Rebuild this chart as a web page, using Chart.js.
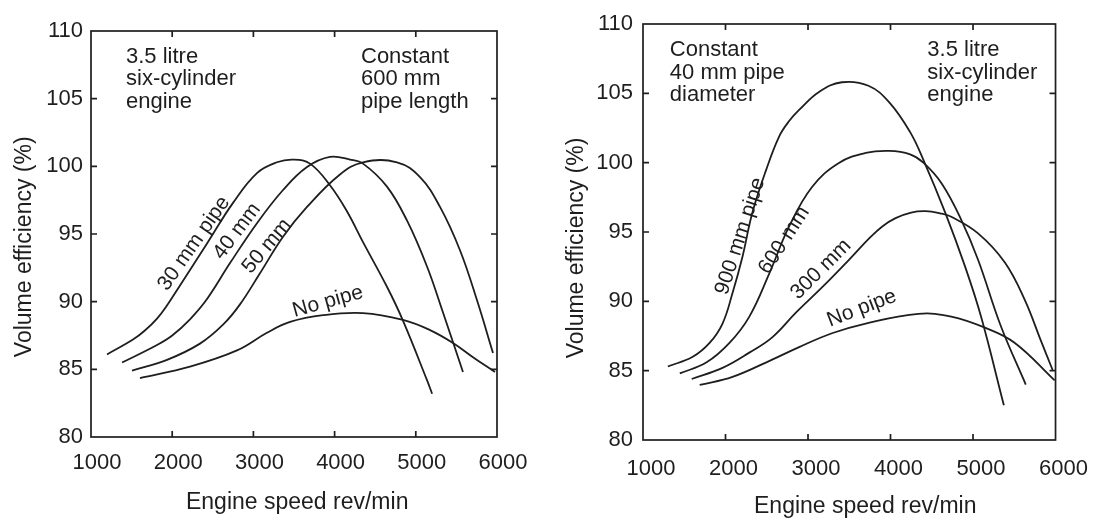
<!DOCTYPE html>
<html>
<head>
<meta charset="utf-8">
<script src="https://cdn.jsdelivr.net/npm/chart.js@4.4.1/dist/chart.umd.min.js"></script>
<style>
  html, body { margin: 0; padding: 0; background: #fff; }
  .panel { position: absolute; top: 0; width: 548px; height: 520px; }
  #left { left: 0; }
  #right { left: 548px; }
</style>
</head>
<body>
<div class="panel" id="left"><canvas id="chartDia"></canvas></div>
<div class="panel" id="right"><canvas id="chartLen"></canvas></div>
<script>
// ---- shared axes ----
const rpmMin = 1000, rpmMax = 6000, rpmStep = 1000;
const effMin = 80, effMax = 110, effStep = 5;

// ---- left chart: constant 600 mm pipe length, pipe diameter varies ----
const diaRpm30 = [1197, 1517, 1660, 1813, 1950, 2096, 2429, 2749, 3044, 3290, 3488, 3697, 3943, 4150, 4350, 4645, 4842, 5138, 5201];
const diaEff30 = [86.1, 87.2, 87.85, 88.75, 89.85, 91.2, 94.3, 97.3, 99.5, 100.3, 100.5, 100.2, 98.6, 96.7, 94.4, 91.1, 88.6, 84.2, 83.2];
const diaRpm40 = [1382, 1813, 2000, 2219, 2429, 2712, 3044, 3365, 3660, 3943, 4190, 4350, 4645, 4891, 5138, 5335, 5581];
const diaEff40 = [85.5, 86.8, 87.5, 88.7, 90.2, 92.85, 95.8, 98.25, 99.95, 100.7, 100.5, 100.2, 98.5, 96.0, 92.6, 89.2, 84.8];
const diaRpm50 = [1505, 1936, 2342, 2626, 2835, 3081, 3365, 3660, 4066, 4350, 4768, 5052, 5298, 5544, 5754, 5951];
const diaEff50 = [84.9, 85.7, 86.9, 88.3, 89.8, 92.1, 94.8, 97.0, 99.4, 100.3, 100.3, 99.2, 97.0, 93.8, 90.1, 86.2];
const diaRpmNone = [1603, 2219, 2798, 3167, 3451, 3857, 4350, 4842, 5175, 5458, 5704, 5975];
const diaEffNone = [84.35, 85.2, 86.4, 87.7, 88.5, 89.0, 89.15, 88.65, 87.9, 86.95, 85.9, 84.8];

const diaLabelText = ['30 mm pipe', '40 mm', '50 mm', 'No pipe'];
const diaLabelRpm = [2268, 2798, 3167, 3918];
const diaLabelEff = [94.3, 95.2, 94.1, 90.0];
const diaLabelAngle = [-55, -53, -50, -15.5];

const diaNoteText = [['3.5 litre', 'six-cylinder', 'engine'], ['Constant', '600 mm', 'pipe length']];
const diaNoteRpm = [1431, 4325];
const diaNoteEff = [108.1, 108.1];

// ---- right chart: constant 40 mm pipe diameter, pipe length varies ----
const lenRpm900 = [1301, 1603, 1807, 1964, 2085, 2205, 2326, 2494, 2651, 2771, 2892, 3133, 3410, 3732, 3985, 4238, 4406, 4663, 4904, 5097, 5374];
const lenEff900 = [85.3, 86.0, 87.0, 88.4, 90.6, 93.2, 96.4, 99.5, 101.9, 103.0, 103.8, 105.1, 105.8, 105.55, 104.35, 102.2, 100.1, 96.4, 92.5, 88.9, 82.5];
const lenRpm600 = [1446, 1771, 2048, 2289, 2530, 2771, 3049, 3374, 3699, 3985, 4238, 4398, 4620, 4856, 5061, 5338, 5639];
const lenEff600 = [84.8, 85.6, 87.0, 88.9, 92.0, 95.4, 98.25, 99.98, 100.7, 100.85, 100.6, 100.0, 98.5, 95.9, 93.0, 88.2, 84.0];
const lenRpm300 = [1590, 1964, 2289, 2566, 2856, 3169, 3530, 3735, 3900, 4061, 4250, 4422, 4600, 4736, 5061, 5386, 5627, 5820, 5965];
const lenEff300 = [84.4, 85.2, 86.3, 87.4, 89.2, 91.0, 93.2, 94.5, 95.4, 96.0, 96.4, 96.5, 96.35, 96.1, 94.9, 92.8, 90.1, 87.2, 85.05];
const lenRpmNone = [1687, 2085, 2566, 2892, 3290, 3699, 4338, 4736, 5145, 5507, 5989];
const lenEffNone = [83.97, 84.55, 85.8, 86.7, 87.7, 88.4, 89.1, 88.9, 88.1, 87.0, 84.3];

const lenLabelText = ['900 mm pipe', '600 mm', '300 mm', 'No pipe'];
const lenLabelRpm = [2180, 2711, 3157, 3651];
const lenLabelEff = [94.7, 94.4, 92.3, 89.5];
const lenLabelAngle = [-72, -57, -45, -21];

const lenNoteText = [['Constant', '40 mm pipe', 'diameter'], ['3.5 litre', 'six-cylinder', 'engine']];
const lenNoteRpm = [1325, 4446];
const lenNoteEff = [108.1, 108.1];

const FONT = "'Liberation Sans', Arial, Helvetica, sans-serif";
const INK = '#1e1e1e';

const toPoints = (xs, ys) => xs.map((x, i) => ({ x, y: ys[i] }));

// frame, inward tick marks, curve labels and corner notes
const notesPlugin = {
  id: 'chartNotes',
  afterDraw(chart, args, opts) {
    const { ctx, chartArea: a } = chart;
    const xs = chart.scales.x, ys = chart.scales.y;
    ctx.save();
    ctx.strokeStyle = INK;
    ctx.lineWidth = 1.7;
    ctx.strokeRect(a.left, a.top, a.right - a.left, a.bottom - a.top);
    ctx.beginPath();
    for (let v = rpmMin + rpmStep; v < rpmMax; v += rpmStep) {
      const px = xs.getPixelForValue(v);
      ctx.moveTo(px, a.top); ctx.lineTo(px, a.top + 6);
      ctx.moveTo(px, a.bottom); ctx.lineTo(px, a.bottom - 6);
    }
    for (let v = effMin + effStep; v < effMax; v += effStep) {
      const py = ys.getPixelForValue(v);
      ctx.moveTo(a.left, py); ctx.lineTo(a.left + 6, py);
      ctx.moveTo(a.right, py); ctx.lineTo(a.right - 6, py);
    }
    ctx.stroke();

    ctx.fillStyle = INK;
    ctx.font = '21px ' + FONT;
    ctx.textAlign = 'center';
    ctx.textBaseline = 'middle';
    opts.labels.forEach((t, i) => {
      ctx.save();
      ctx.translate(xs.getPixelForValue(opts.labelRpm[i]), ys.getPixelForValue(opts.labelEff[i]));
      ctx.rotate(opts.labelAngle[i] * Math.PI / 180);
      ctx.fillText(t, 0, 0);
      ctx.restore();
    });

    ctx.font = '22px ' + FONT;
    ctx.textAlign = 'left';
    opts.notes.forEach((lines, i) => {
      const x = xs.getPixelForValue(opts.noteRpm[i]);
      const y = ys.getPixelForValue(opts.noteEff[i]);
      lines.forEach((s, j) => ctx.fillText(s, x, y + j * 22.5));
    });
    ctx.restore();
  }
};

function makeChart(canvasId, series, box, notes) {
  const datasets = series.map(s => ({
    data: toPoints(s[0], s[1]),
    borderColor: INK,
    borderWidth: 1.8,
    pointRadius: 0,
    fill: false,
    tension: 0.4,
  }));

  return new Chart(document.getElementById(canvasId), {
    type: 'line',
    data: { datasets },
    options: {
      responsive: true,
      maintainAspectRatio: false,
      animation: false,
      layout: { padding: { top: box.top, right: box.right, bottom: 0, left: 0 } },
      plugins: {
        legend: { display: false },
        tooltip: { enabled: false },
        chartNotes: notes,
      },
      scales: {
        x: {
          type: 'linear',
          min: rpmMin, max: rpmMax,
          afterFit: s => { s.height = box.xHeight; },
          ticks: { stepSize: rpmStep, color: INK, font: { family: FONT, size: 22 }, padding: box.xPad,
                   labelOffset: box.xShift, maxRotation: 0, callback: v => String(v) },
          grid: { display: false, drawTicks: false },
          border: { display: false },
          title: { display: true, text: box.xTitle, color: INK, font: { family: FONT, size: 23 }, padding: { top: 0, bottom: box.xTitlePad } },
        },
        y: {
          min: effMin, max: effMax,
          afterFit: s => { s.width = box.yWidth; },
          ticks: { stepSize: effStep, color: INK, font: { family: FONT, size: 22 }, padding: box.yPad, callback: v => String(v) },
          grid: { display: false, drawTicks: false },
          border: { display: false },
          title: { display: true, text: box.yTitle, color: INK, font: { family: FONT, size: 23 }, padding: { top: box.yTitlePad, bottom: 0 } },
        },
      },
    },
    plugins: [notesPlugin],
  });
}

makeChart('chartDia',
  [[diaRpm30, diaEff30], [diaRpm40, diaEff40], [diaRpm50, diaEff50], [diaRpmNone, diaEffNone]],
  { top: 31, right: 51, yWidth: 91, xHeight: 83, xPad: 13, xShift: 6, yPad: 8,
    xTitle: ' Engine speed rev/min', xTitlePad: 4,
    yTitle: 'Volume efficiency (%)    ', yTitlePad: 11 },
  { labels: diaLabelText, labelRpm: diaLabelRpm, labelEff: diaLabelEff, labelAngle: diaLabelAngle,
    notes: diaNoteText, noteRpm: diaNoteRpm, noteEff: diaNoteEff });

makeChart('chartLen',
  [[lenRpm900, lenEff900], [lenRpm600, lenEff600], [lenRpm300, lenEff300], [lenRpmNone, lenEffNone]],
  { top: 24, right: 38, yWidth: 95, xHeight: 80, xPad: 16, xShift: 8, yPad: 10,
    xTitle: '     Engine speed rev/min', xTitlePad: 0,
    yTitle: 'Volume efficiency (%)     ', yTitlePad: 15 },
  { labels: lenLabelText, labelRpm: lenLabelRpm, labelEff: lenLabelEff, labelAngle: lenLabelAngle,
    notes: lenNoteText, noteRpm: lenNoteRpm, noteEff: lenNoteEff });
</script>
</body>
</html>
